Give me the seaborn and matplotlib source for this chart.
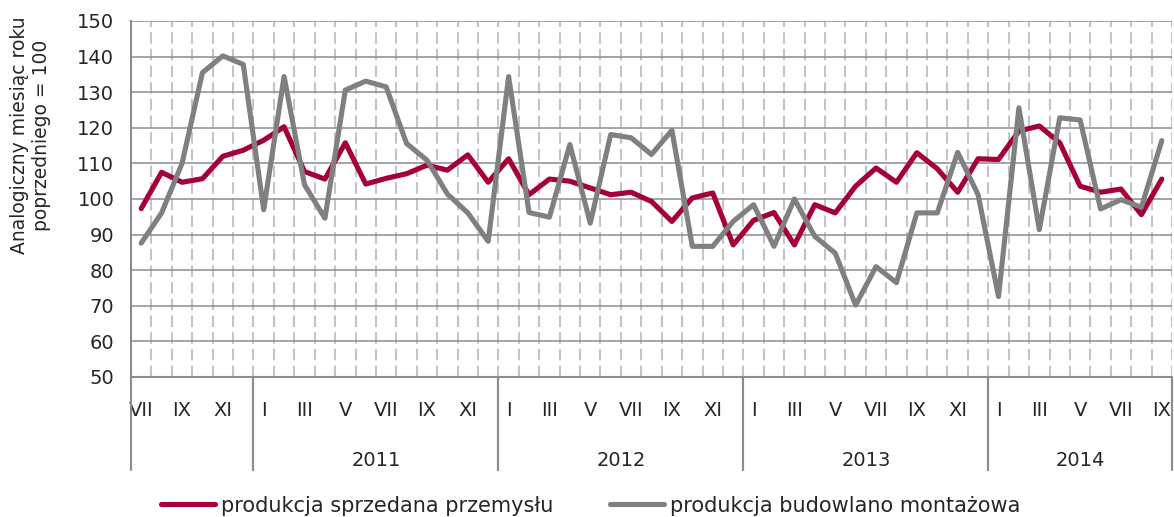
import pandas as pd
import matplotlib
matplotlib.use("Agg")
import matplotlib.pyplot as plt
import matplotlib.transforms as mtransforms
import seaborn as sns

# miesiace VII 2010 - IX 2014
rzymskie = ["I", "II", "III", "IV", "V", "VI", "VII", "VIII", "IX", "X", "XI", "XII"]
miesiace = [rzymskie[(6 + i) % 12] for i in range(51)]
lata = [2010 + (6 + i) // 12 for i in range(51)]

przemysl = [97.3, 107.5, 104.7, 105.7, 112.0, 113.7, 116.5, 120.3, 107.7, 105.6,
            115.8, 104.2, 105.8, 107.1, 109.5, 108.1, 112.4, 104.7, 111.3, 101.2,
            105.6, 105.0, 103.1, 101.2, 101.9, 99.3, 93.7, 100.3, 101.7, 87.1,
            94.0, 96.2, 87.1, 98.4, 96.1, 103.6, 108.7, 104.7, 113.0, 108.5,
            101.9, 111.3, 111.1, 119.1, 120.5, 115.8, 103.6, 101.9, 102.8, 95.6,
            105.6]
budownictwo = [87.6, 96.1, 110.0, 135.5, 140.2, 137.8, 97.0, 134.4, 104.0, 94.6,
               130.6, 133.1, 131.5, 115.6, 110.9, 101.4, 96.1, 88.1, 134.4, 96.2,
               94.9, 115.3, 93.2, 118.1, 117.2, 112.5, 119.3, 86.7, 86.7, 93.7,
               98.4, 86.7, 100.0, 89.5, 84.8, 70.2, 81.0, 76.5, 96.1, 96.1,
               113.1, 101.2, 72.6, 125.6, 91.4, 122.8, 122.2, 97.2, 99.8, 97.7,
               116.4]
serie = ["produkcja sprzedana przemysłu", "produkcja budowlano montażowa"]
kolory = ["#A5003A", "#808080"]

idx = list(range(len(miesiace)))
df = pd.concat([
    pd.DataFrame({"idx": idx, "wartosc": przemysl, "seria": serie[0]}),
    pd.DataFrame({"idx": idx, "wartosc": budownictwo, "seria": serie[1]}),
])

sns.set_style("white")
plt.rcParams["font.family"] = ["DejaVu Sans"]

fig = plt.figure(figsize=(11.74, 5.17), dpi=100)
ax = fig.add_axes([131 / 1174, 1 - 377 / 517, (1172 - 131) / 1174, (377 - 21) / 517])

sns.lineplot(data=df, x="idx", y="wartosc", hue="seria", hue_order=serie,
             palette=kolory, linewidth=3.7, sort=False, legend=False, ax=ax)

szary = "#8c8c8c"
ax.set_xlim(-0.5, len(miesiace) - 0.5)
ax.set_ylim(50, 150)
ax.set_yticks(range(50, 151, 10))
ax.tick_params(axis="y", length=0, pad=12, labelsize=14)
ax.yaxis.grid(True, color=szary, lw=1.1)
ax.set_axisbelow(True)

# granice miesiecy - przerywane linie
granice = [i - 0.5 for i in range(len(miesiace) + 1)]
ax.set_xticks(granice, minor=True)
ax.xaxis.grid(True, which="minor", color="#c4c4c4", lw=1.5, ls=(0, (5.5, 2.5)))
ax.set_xticks(idx[::2])
ax.set_xticklabels(miesiace[::2])
ax.tick_params(axis="x", which="major", length=0, pad=17, labelsize=14)
ax.tick_params(axis="x", which="minor", length=0)

for s in ["top", "right"]:
    ax.spines[s].set_visible(False)
for s in ["left", "bottom"]:
    ax.spines[s].set_color(szary)
    ax.spines[s].set_linewidth(1.5)

ax.set_xlabel("")
ax.set_ylabel("Analogiczny miesiąc roku\npoprzedniego = 100", fontsize=13.5)
ax.yaxis.set_label_coords(-0.077, 0.68)

# grupy lat pod osia
trans = mtransforms.blended_transform_factory(ax.transData, ax.transAxes)
rok_lista = sorted(set(lata))
for r in rok_lista:
    pozycje = [i for i, y in enumerate(lata) if y == r]
    lewo, prawo = pozycje[0] - 0.5, pozycje[-1] + 0.5
    for b in (lewo, prawo):
        ax.plot([b, b], [0, -0.26], transform=trans, clip_on=False, color=szary, lw=1.5)
    if r != rok_lista[0]:
        ax.text((lewo + prawo) / 2, -0.235, str(r), transform=trans,
                ha="center", va="center", fontsize=14)

handles = ax.lines[:2]
fig.legend(handles, serie, loc="center", bbox_to_anchor=(0.503, 0.022), ncol=2,
           frameon=False, handlelength=2.6, columnspacing=2.7, handletextpad=0.3,
           fontsize=15)

plt.savefig("out.png", dpi=100)
plt.close()
